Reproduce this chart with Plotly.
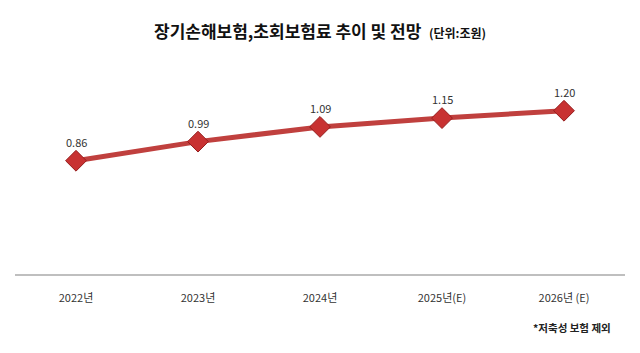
import plotly.graph_objects as go

categories = ["2022년", "2023년", "2024년", "2025년(E)", "2026년 (E)"]
values = [0.86, 0.99, 1.09, 1.15, 1.20]
value_labels = ["0.86", "0.99", "1.09", "1.15", "1.20"]

title_main = "장기손해보험,초회보험료 추이 및 전망"
title_unit = "(단위:조원)"
footnote = "*저축성 보험 제외"

KR = "Noto Sans CJK KR, Noto Sans, sans-serif"
RED = "rgb(192,64,62)"

fig = go.Figure()
fig.add_trace(go.Scatter(
    x=categories, y=values, mode="lines+markers",
    line=dict(color=RED, width=5),
    marker=dict(symbol="diamond", size=16, color="rgb(200,50,50)",
                line=dict(color="rgb(150,30,30)", width=1)),
    hoverinfo="skip", showlegend=False,
))

for c, v, t in zip(categories, values, value_labels):
    fig.add_annotation(x=c, y=v, text=t, showarrow=False, yshift=19,
                       font=dict(family=KR, size=11, color="#333333"))

fig.add_annotation(
    xref="paper", yref="paper", x=0.5, y=1, yshift=30, xanchor="center", yanchor="middle",
    text=f"<b>{title_main}</b>  <b><span style='font-size:12px'>{title_unit}</span></b>",
    showarrow=False, font=dict(family=KR, size=17, color="#111111"))

fig.add_annotation(
    xref="paper", yref="paper", x=0.98, y=0, yshift=-53, xanchor="right", yanchor="middle",
    text=f"<b>{footnote}</b>", showarrow=False,
    font=dict(family=KR, size=10.5, color="#222222"))

fig.update_layout(
    width=640, height=353,
    margin=dict(l=15, r=15, t=60, b=79),
    paper_bgcolor="white", plot_bgcolor="white",
    xaxis=dict(type="category", range=[-0.5, 4.5], showgrid=False,
               showline=True, linecolor="#BFBFBF", linewidth=2,
               ticks="", tickfont=dict(family=KR, size=11, color="#333333"),
               ticklabelstandoff=13),
    yaxis=dict(range=[0.09, 1.545], visible=False, showgrid=False, zeroline=False),
)

fig.write_html("out.html")
